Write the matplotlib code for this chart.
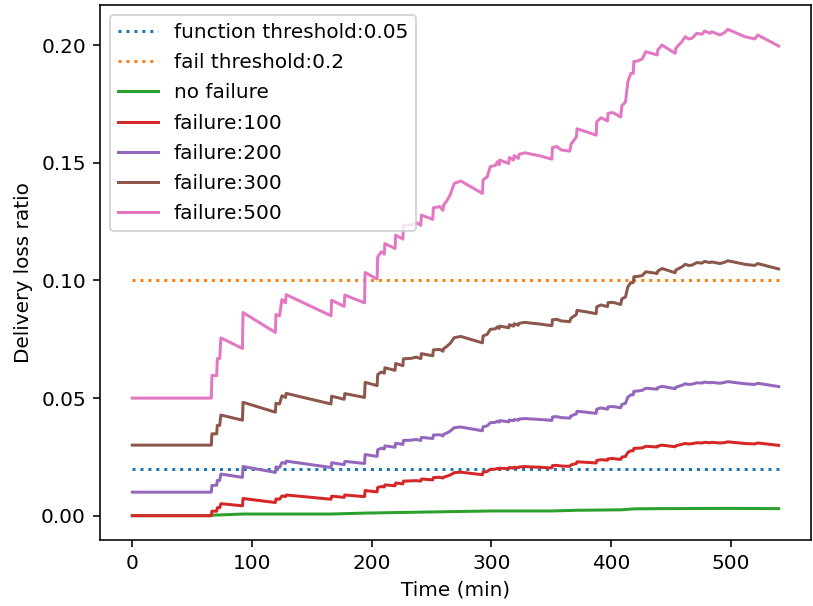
import matplotlib
matplotlib.use("Agg")
import matplotlib.pyplot as plt

# time stamps (min) shared by the failure runs
time = [0, 66, 66.5, 70.5, 71, 73, 74, 92, 92.5, 119.5,
        120, 123, 125, 128, 128.5, 166, 166.5, 177, 177.5, 194,
        194.5, 204.5, 205, 208, 210.5, 211, 219.5, 220, 226, 226.5,
        233, 237, 241, 241.5, 251, 251.5, 257, 259.5, 260, 262.5,
        265.5, 267, 269, 274.5, 292.5, 293, 296.5, 299, 303.5, 305,
        306.5, 307, 310.5, 314.5, 315, 318.5, 319, 322.5, 323, 328,
        334.5, 340.5, 346, 350.5, 351, 354.5, 358.5, 365.5, 366.5, 369.5,
        371, 371.5, 379, 387.5, 388, 391.5, 397, 397.5, 401.5, 408,
        409, 412, 414, 416.5, 418.5, 419, 422, 426, 429, 438.5,
        439, 442.5, 453.5, 454, 459.5, 462, 464.5, 467.5, 471.5, 476,
        478, 482.5, 484, 491, 495, 497.5, 511.5, 520, 522.5, 540]

fail_100 = [0.0, 0.0, 0.0019, 0.0019, 0.0034, 0.0034, 0.0051, 0.0042, 0.0073, 0.0056,
            0.0071, 0.0070, 0.0084, 0.0081, 0.0088, 0.0070, 0.0083, 0.0078, 0.0088, 0.0081,
            0.0107, 0.0101, 0.0120, 0.0124, 0.0122, 0.0131, 0.0127, 0.0139, 0.0135, 0.0147,
            0.0148, 0.0149, 0.0147, 0.0156, 0.0152, 0.0162, 0.0163, 0.0160, 0.0164, 0.0167,
            0.0173, 0.0177, 0.0183, 0.0185, 0.0174, 0.0185, 0.0188, 0.0197, 0.0198, 0.0201,
            0.0198, 0.0202, 0.0201, 0.0200, 0.0205, 0.0202, 0.0206, 0.0204, 0.0207, 0.0209,
            0.0207, 0.0206, 0.0204, 0.0203, 0.0213, 0.0214, 0.0211, 0.0210, 0.0216, 0.0220,
            0.0222, 0.0229, 0.0227, 0.0224, 0.0235, 0.0238, 0.0236, 0.0242, 0.0243, 0.0239,
            0.0249, 0.0252, 0.0269, 0.0276, 0.0276, 0.0286, 0.0287, 0.0288, 0.0295, 0.0292,
            0.0296, 0.0300, 0.0293, 0.0297, 0.0304, 0.0307, 0.0305, 0.0306, 0.0310, 0.0309,
            0.0312, 0.0310, 0.0312, 0.0309, 0.0311, 0.0314, 0.0307, 0.0305, 0.0309, 0.0299]

fail_200 = [0.0100, 0.0100, 0.0129, 0.0129, 0.0150, 0.0150, 0.0177, 0.0163, 0.0209, 0.0184,
            0.0207, 0.0205, 0.0226, 0.0222, 0.0232, 0.0205, 0.0225, 0.0217, 0.0231, 0.0222,
            0.0260, 0.0252, 0.0280, 0.0287, 0.0284, 0.0297, 0.0291, 0.0308, 0.0303, 0.0320,
            0.0321, 0.0324, 0.0320, 0.0333, 0.0328, 0.0343, 0.0344, 0.0339, 0.0346, 0.0351,
            0.0359, 0.0366, 0.0374, 0.0377, 0.0361, 0.0378, 0.0382, 0.0395, 0.0397, 0.0402,
            0.0398, 0.0404, 0.0402, 0.0399, 0.0407, 0.0404, 0.0409, 0.0406, 0.0411, 0.0413,
            0.0411, 0.0409, 0.0407, 0.0405, 0.0420, 0.0421, 0.0417, 0.0415, 0.0424, 0.0430,
            0.0433, 0.0444, 0.0440, 0.0435, 0.0453, 0.0458, 0.0453, 0.0463, 0.0464, 0.0459,
            0.0473, 0.0478, 0.0504, 0.0514, 0.0514, 0.0529, 0.0530, 0.0533, 0.0542, 0.0538,
            0.0544, 0.0550, 0.0540, 0.0546, 0.0555, 0.0561, 0.0558, 0.0559, 0.0565, 0.0564,
            0.0568, 0.0565, 0.0567, 0.0563, 0.0567, 0.0570, 0.0561, 0.0558, 0.0563, 0.0549]

fail_300 = [0.0300, 0.0300, 0.0348, 0.0348, 0.0384, 0.0384, 0.0428, 0.0406, 0.0482, 0.0440,
            0.0478, 0.0475, 0.0510, 0.0503, 0.0520, 0.0475, 0.0508, 0.0495, 0.0519, 0.0503,
            0.0567, 0.0553, 0.0600, 0.0611, 0.0606, 0.0629, 0.0618, 0.0647, 0.0638, 0.0667,
            0.0669, 0.0674, 0.0668, 0.0689, 0.0680, 0.0705, 0.0707, 0.0699, 0.0710, 0.0719,
            0.0732, 0.0743, 0.0757, 0.0762, 0.0735, 0.0764, 0.0771, 0.0792, 0.0795, 0.0803,
            0.0796, 0.0806, 0.0803, 0.0799, 0.0812, 0.0806, 0.0816, 0.0810, 0.0818, 0.0822,
            0.0818, 0.0815, 0.0811, 0.0808, 0.0833, 0.0835, 0.0828, 0.0825, 0.0840, 0.0850,
            0.0856, 0.0873, 0.0867, 0.0859, 0.0888, 0.0896, 0.0889, 0.0906, 0.0907, 0.0898,
            0.0922, 0.0930, 0.0973, 0.0991, 0.0991, 0.1016, 0.1017, 0.1021, 0.1037, 0.1030,
            0.1040, 0.1051, 0.1033, 0.1044, 0.1059, 0.1069, 0.1064, 0.1065, 0.1076, 0.1074,
            0.1081, 0.1076, 0.1079, 0.1072, 0.1078, 0.1084, 0.1069, 0.1064, 0.1072, 0.1049]

fail_500 = [0.0500, 0.0500, 0.0596, 0.0596, 0.0668, 0.0668, 0.0756, 0.0711, 0.0864, 0.0779,
            0.0855, 0.0850, 0.0919, 0.0905, 0.0940, 0.0850, 0.0916, 0.0890, 0.0938, 0.0905,
            0.1034, 0.1006, 0.1100, 0.1122, 0.1112, 0.1157, 0.1136, 0.1193, 0.1176, 0.1233,
            0.1238, 0.1247, 0.1235, 0.1278, 0.1260, 0.1309, 0.1314, 0.1298, 0.1320, 0.1337,
            0.1363, 0.1385, 0.1413, 0.1423, 0.1370, 0.1427, 0.1441, 0.1484, 0.1490, 0.1505,
            0.1492, 0.1512, 0.1505, 0.1498, 0.1523, 0.1512, 0.1531, 0.1519, 0.1536, 0.1543,
            0.1536, 0.1530, 0.1522, 0.1516, 0.1565, 0.1570, 0.1555, 0.1550, 0.1580, 0.1600,
            0.1611, 0.1645, 0.1633, 0.1618, 0.1675, 0.1692, 0.1678, 0.1711, 0.1714, 0.1695,
            0.1743, 0.1759, 0.1845, 0.1881, 0.1881, 0.1931, 0.1933, 0.1942, 0.1973, 0.1959,
            0.1980, 0.2001, 0.1966, 0.1987, 0.2018, 0.2037, 0.2027, 0.2030, 0.2051, 0.2047,
            0.2061, 0.2051, 0.2058, 0.2044, 0.2055, 0.2068, 0.2037, 0.2027, 0.2044, 0.1997]

# the no-failure run is nearly flat, fewer samples are enough
time_nofail = [0, 66, 66.5, 92.5, 166, 194.5, 251.5, 274.5, 300, 350, 371.5, 409, 419, 440, 497, 540]
no_failure = [0.0, 0.0, 0.0002, 0.0007, 0.0007, 0.0011, 0.0016, 0.0018, 0.0020, 0.0020,
              0.0023, 0.0025, 0.0029, 0.0030, 0.0031, 0.0030]

thr_x = [0, 540]
function_thr = 0.02
fail_thr = 0.1

DPI = 144
fig = plt.figure(figsize=(813 / DPI, 606 / DPI), dpi=DPI)
ax = fig.add_subplot(111)
fig.subplots_adjust(left=100 / 813, right=811 / 813, bottom=1 - 540 / 606, top=1 - 5 / 606)

ax.plot(thr_x, [function_thr] * 2, ":", color="C0", label="function threshold:0.05")
ax.plot(thr_x, [fail_thr] * 2, ":", color="C1", label="fail threshold:0.2")
ax.plot(time_nofail, no_failure, color="C2", label="no failure")
ax.plot(time, fail_100, color="C3", label="failure:100")
ax.plot(time, fail_200, color="C4", label="failure:200")
ax.plot(time, fail_300, color="C5", label="failure:300")
ax.plot(time, fail_500, color="C6", label="failure:500")

ax.set_xlabel("Time (min)")
ax.set_ylabel("Delivery loss ratio")
ax.legend(loc="upper left", labelspacing=0.56)

fig.savefig("out.png", dpi=DPI)
